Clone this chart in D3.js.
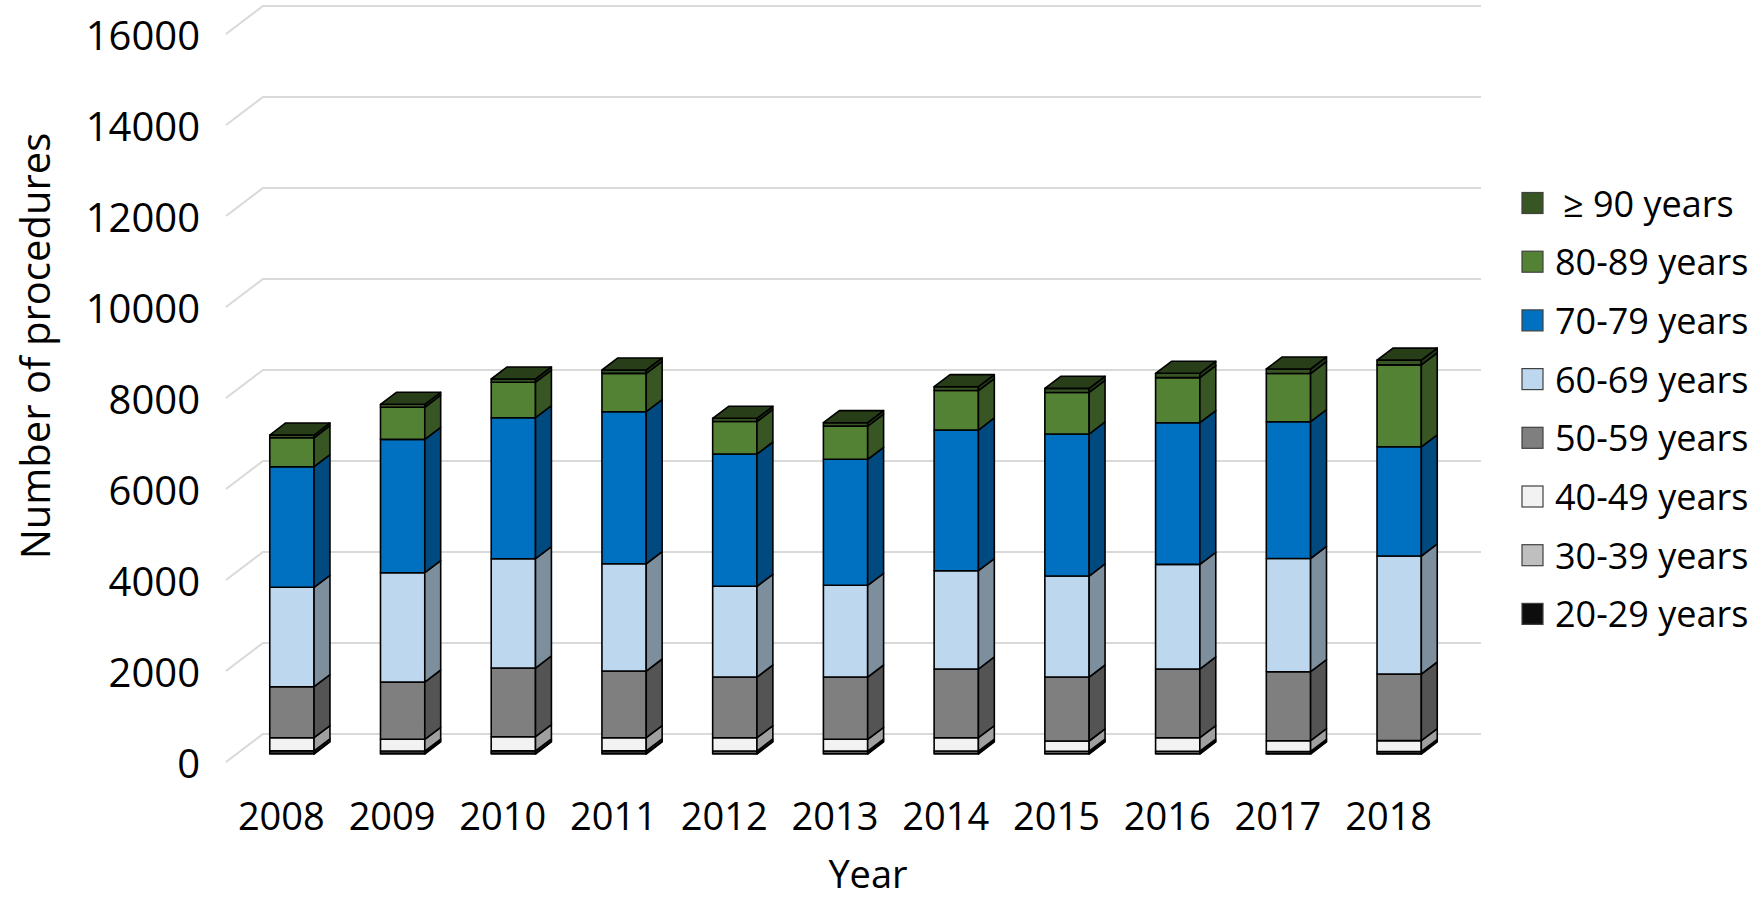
<!DOCTYPE html>
<html><head><meta charset="utf-8">
<script src="https://cdn.jsdelivr.net/npm/d3@7/dist/d3.min.js"></script>
<style>
body{margin:0;background:#fff;}
text{font-family:"Open Sans",sans-serif;fill:#000;}
</style>
</head><body>
<svg id="c" width="1754" height="902"></svg>
<script>
// ---- data ----
const years = ["2008","2009","2010","2011","2012","2013","2014","2015","2016","2017","2018"];
const ageGroups = ["20-29 years","30-39 years","40-49 years","50-59 years","60-69 years","70-79 years","80-89 years","≥ 90 years"];
const age20_29 = [20, 20, 20, 20, 18, 18, 17, 16, 16, 15, 15];
const age30_39 = [50, 45, 50, 50, 48, 45, 48, 45, 45, 42, 42];
const age40_49 = [288, 258, 311, 288, 292, 260, 293, 225, 297, 235, 237];
const age50_59 = [1121, 1259, 1509, 1466, 1334, 1369, 1510, 1406, 1510, 1517, 1464];
const age60_69 = [2185, 2403, 2402, 2358, 1994, 2016, 2161, 2220, 2301, 2488, 2594];
const age70_79 = [2650, 2931, 3099, 3341, 2907, 2769, 3092, 3121, 3113, 3006, 2400];
const age80_89 = [637, 705, 781, 842, 715, 730, 867, 914, 990, 1059, 1800];
const age90plus = [60, 65, 70, 75, 70, 75, 85, 90, 95, 100, 105];
const yTicks = [0,2000,4000,6000,8000,10000,12000,14000,16000];
const seriesColors = ["#0d0d0d","#bfbfbf","#f2f2f2","#7f7f7f","#bdd7ee","#0070c0","#548235","#375623"];

const series = [age20_29, age30_39, age40_49, age50_59, age60_69, age70_79, age80_89, age90plus];

// ---- layout ----
const svg = d3.select("#c");
const DX = 37, DY = -28;          // full floor depth offset
const T1 = 0.285, T2 = 0.715;     // bar front/back depth fractions
const y = d3.scaleLinear().domain([0,16000]).range([762, 34]);
const x = d3.scaleBand().domain(years).range([226, 1444]).paddingInner(0.6).paddingOuter(0.3);
const bw = x.bandwidth();
const P = (xx, v, t) => [xx + DX*t, y(v) + DY*t];
const pts = a => a.map(p => p.join(",")).join(" ");
const shade = (c, f) => { const r = d3.rgb(c); return d3.rgb(r.r*f, r.g*f, r.b*f).formatHex(); };

// gridlines
const gl = svg.append("g");
yTicks.forEach(v => {
  gl.append("polyline")
    .attr("points", pts([P(226, v, 0), P(226, v, 1), P(1444, v, 1)]))
    .attr("fill","none").attr("stroke","#d9d9d9").attr("stroke-width",2);
});

// y tick labels
svg.append("g").selectAll("text").data(yTicks).join("text")
  .attr("x", 200).attr("y", d => y(d))
  .attr("text-anchor","end").attr("dominant-baseline","central")
  .attr("font-size", 40).text(d => d);

// bars
const stack = d3.stack().keys(d3.range(series.length)).value((d, k) => series[k][d])(d3.range(years.length));
const bars = svg.append("g");
years.forEach((yr, i) => {
  const g = bars.append("g");
  const xl = x(yr), xr = xl + bw;
  stack.forEach((layer, k) => {
    const v0 = layer[i][0], v1 = layer[i][1];
    g.append("polygon").attr("points", pts([P(xl,v0,T1),P(xr,v0,T1),P(xr,v1,T1),P(xl,v1,T1)]))
      .attr("fill", seriesColors[k]).attr("stroke","#000").attr("stroke-width",1.6).attr("stroke-linejoin","round");
  });
  stack.forEach((layer, k) => {
    const v0 = layer[i][0], v1 = layer[i][1];
    g.append("polygon").attr("points", pts([P(xr,v0,T1),P(xr,v0,T2),P(xr,v1,T2),P(xr,v1,T1)]))
      .attr("fill", shade(seriesColors[k], 0.66)).attr("stroke","#000").attr("stroke-width",1.6).attr("stroke-linejoin","round");
  });
  const top = stack[stack.length-1][i][1];
  g.append("polygon").attr("points", pts([P(xl,top,T1),P(xr,top,T1),P(xr,top,T2),P(xl,top,T2)]))
    .attr("fill", shade(seriesColors[7], 0.72)).attr("stroke","#000").attr("stroke-width",1.6).attr("stroke-linejoin","round");
});

// x labels
svg.append("g").selectAll("text").data(years).join("text")
  .attr("x", d => x(d) + bw/2).attr("y", 815)
  .attr("text-anchor","middle").attr("dominant-baseline","central")
  .attr("font-size", 38).text(d => d);

// axis titles
svg.append("text").attr("transform","translate(34,346) rotate(-90)")
  .attr("text-anchor","middle").attr("dominant-baseline","central")
  .attr("font-size", 40).text("Number of procedures");
svg.append("text").attr("x", 868).attr("y", 888)
  .attr("text-anchor","middle")
  .attr("font-size", 38).text("Year");

// legend
const legOrder = d3.range(series.length).reverse();
const lg = svg.append("g");
legOrder.forEach((k, j) => {
  const cy = 203 + j*58.7;
  lg.append("rect").attr("x",1522).attr("y",cy-10.5).attr("width",21).attr("height",21)
    .attr("fill", seriesColors[k]).attr("stroke","#404040").attr("stroke-width",1.2);
  lg.append("text").attr("x", k === 7 ? 1563 : 1555).attr("y", cy)
    .attr("dominant-baseline","central").attr("font-size", 36).text(ageGroups[k]);
});
</script>
</body></html>
